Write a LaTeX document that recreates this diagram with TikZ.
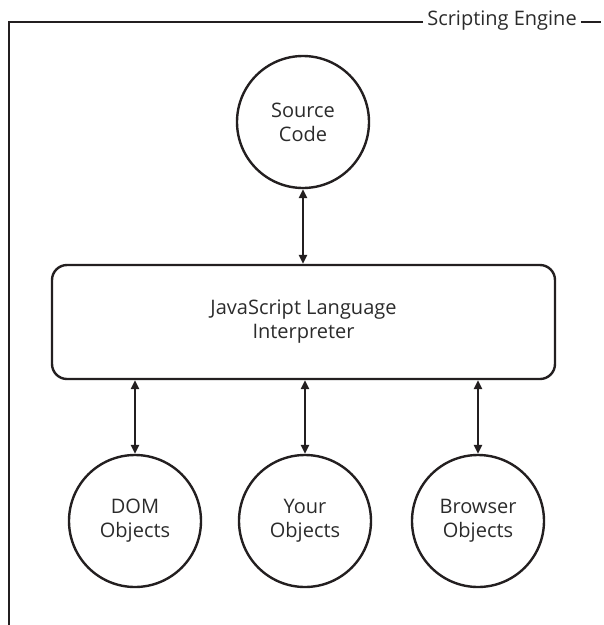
\documentclass[tikz,border=0pt]{standalone}
\usepackage{fontspec}
\setmainfont{Open Sans}
\usetikzlibrary{arrows.meta,positioning}

\definecolor{ink}{HTML}{231F20}
\definecolor{txt}{HTML}{2B2B2B}

\tikzset{
	obj/.style={draw=ink, circle, line width=2.4pt, minimum size=132pt, inner sep=0pt, align=center, text=txt, font=\fontsize{20}{24}\selectfont},
	interp/.style={draw=ink, rounded corners=15pt, line width=2.4pt, minimum width=503pt, minimum height=114pt, align=center, text=txt, font=\fontsize{20}{24}\selectfont},
	link/.style={draw=ink, line width=2.4pt, {Triangle[length=9pt,width=8pt]}-{Triangle[length=9pt,width=8pt]}},
	frame/.style={draw=ink, line width=2.6pt}
}

\begin{document}
\begin{tikzpicture}[x=1pt, y=-1pt]
	\useasboundingbox (0,0) rectangle (604,625);
	% engine frame
	\node[text=txt, font=\fontsize{20}{24}\selectfont, inner xsep=4pt] (engine) at (502,21) {Scripting Engine};
	\coordinate (tl) at (9,22); \coordinate (bl) at (9,625); \coordinate (tr) at (601,22);
	\draw[frame] (engine.west |- tl) -- (tl) -- (bl);
	\draw[frame] (engine.east |- tr) -- (tr);

	\node[obj] (src) at (303,122) {Source\\Code};
	\node[interp] (jsi) at (303.5,322) {JavaScript Language\\Interpreter};
	\node[obj] (dom) at (135,521) {DOM\\Objects};
	\node[obj] (your) at (305,521) {Your\\Objects};
	\node[obj] (bro) at (478,521) {Browser\\Objects};

	\draw[link] (src.south) -- (src.south |- jsi.north);
	\draw[link] (dom.north |- jsi.south) -- (dom.north);
	\draw[link] (your.north |- jsi.south) -- (your.north);
	\draw[link] (bro.north |- jsi.south) -- (bro.north);
\end{tikzpicture}
\end{document}
